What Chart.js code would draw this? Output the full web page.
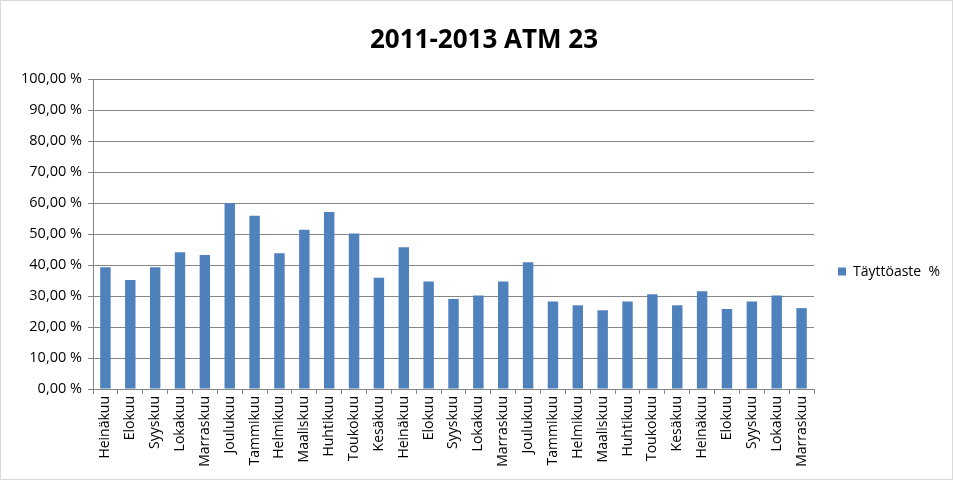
<!DOCTYPE html>
<html>
<head>
<meta charset="utf-8">
<script src="https://cdn.jsdelivr.net/npm/chart.js@4/dist/chart.umd.min.js"></script>
<style>
  html, body { margin: 0; padding: 0; background: #fff; }
  #wrap { position: relative; width: 953px; height: 480px; box-sizing: border-box; border: 1px solid #d9d9d9; }
  canvas { display: block; }
</style>
</head>
<body>
<div id="wrap"><canvas id="c" width="951" height="478"></canvas></div>
<script>
const chartTitle = "2011-2013 ATM 23";
const seriesLabel = "Täyttöaste  %";
const categories = [
  "Heinäkuu","Elokuu","Syyskuu","Lokakuu","Marraskuu","Joulukuu",
  "Tammikuu","Helmikuu","Maaliskuu","Huhtikuu","Toukokuu","Kesäkuu",
  "Heinäkuu","Elokuu","Syyskuu","Lokakuu","Marraskuu","Joulukuu",
  "Tammikuu","Helmikuu","Maaliskuu","Huhtikuu","Toukokuu","Kesäkuu",
  "Heinäkuu","Elokuu","Syyskuu","Lokakuu","Marraskuu"
];
const values = [
  39.3, 35.2, 39.3, 44.1, 43.2, 59.9,
  55.9, 43.8, 51.4, 57.1, 50.2, 35.9,
  45.7, 34.7, 29.0, 30.2, 34.7, 40.9,
  28.2, 27.0, 25.4, 28.2, 30.6, 27.0,
  31.5, 25.8, 28.2, 30.2, 26.1
];
const yTicks = [0,10,20,30,40,50,60,70,80,90,100];

const FONT = "'Open Sans', 'Liberation Sans', sans-serif";
const BAR = "#4F81BD";
const GRID = "#868686";

const legendPlugin = {
  id: 'customLegend',
  afterDraw(chart) {
    const ctx = chart.ctx;
    ctx.save();
    ctx.fillStyle = BAR;
    ctx.fillRect(837, 266.5, 8, 8);
    ctx.fillStyle = "#000";
    ctx.font = "14px " + FONT;
    ctx.textBaseline = "middle";
    ctx.textAlign = "left";
    ctx.fillText(chart.data.datasets[0].label, 852, 271);
    ctx.restore();
  }
};

new Chart(document.getElementById('c'), {
  type: 'bar',
  data: {
    labels: categories,
    datasets: [{
      label: seriesLabel,
      data: values,
      backgroundColor: BAR,
      borderWidth: 0,
      barPercentage: 0.42,
      categoryPercentage: 1.0
    }]
  },
  options: {
    responsive: false,
    animation: false,
    devicePixelRatio: 1,
    layout: { padding: { left: 15, right: 0, top: 0, bottom: 0 } },
    plugins: {
      legend: { display: false },
      tooltip: { enabled: false },
      title: {
        display: true,
        text: chartTitle,
        color: "#000",
        font: { family: FONT, size: 26, weight: 'bold', lineHeight: 1.2 },
        padding: { top: 23.5, bottom: 23.3 },
        align: 'center'
      }
    },
    scales: {
      x: {
        offset: true,
        grid: {
          display: true,
          drawOnChartArea: false,
          drawTicks: true,
          tickLength: 5,
          offset: true,
          color: GRID
        },
        border: { display: true, color: GRID, width: 1 },
        ticks: {
          color: "#000",
          font: { family: FONT, size: 14 },
          maxRotation: 90,
          minRotation: 90,
          autoSkip: false,
          padding: 2
        },
        afterFit(scale) { scale.height = 478 - 388; }
      },
      y: {
        min: 0,
        max: 100,
        afterBuildTicks(scale) { scale.ticks = yTicks.map(v => ({ value: v })); },
        grid: {
          color: GRID,
          drawTicks: true,
          tickLength: 5
        },
        border: { display: true, color: GRID, width: 1 },
        ticks: {
          color: "#000",
          font: { family: FONT, size: 14.5 },
          padding: 6,
          callback: (v) => v.toFixed(2).replace('.', ',') + " %"
        },
        afterFit(scale) { scale.width = 77; }
      },
      spacer: {
        type: 'linear',
        position: 'right',
        display: true,
        grid: { display: false, drawTicks: false },
        border: { display: false },
        ticks: { display: false },
        afterFit(scale) { scale.width = 138; }
      }
    }
  },
  plugins: [legendPlugin]
});
</script>
</body>
</html>
